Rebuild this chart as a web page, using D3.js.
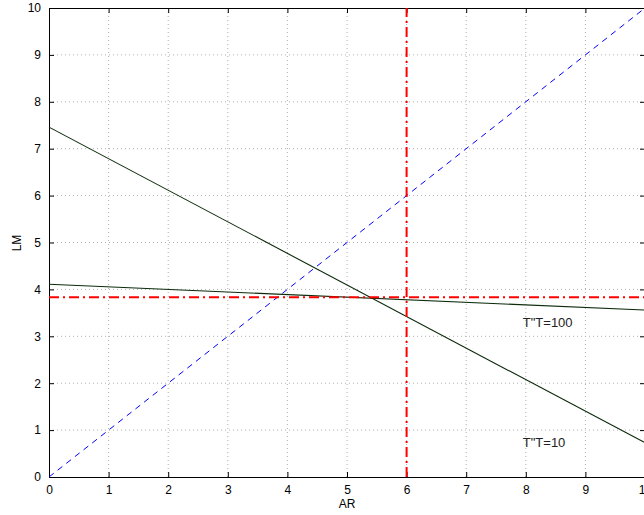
<!DOCTYPE html>
<html>
<head>
<meta charset="utf-8">
<script src="https://cdn.jsdelivr.net/npm/d3@7"></script>
<style>
  body { margin: 0; background: #fff; }
  text { font-family: "Liberation Sans", Arial, sans-serif; }
</style>
</head>
<body>
<svg id="chart"></svg>
<script>
// values
var xTicks = [0, 1, 2, 3, 4, 5, 6, 7, 8, 9, 10];
var yTicks = [0, 1, 2, 3, 4, 5, 6, 7, 8, 9, 10];
var diagLine = [[0, 0], [10, 10]];
var lineT10 = [[0, 7.46], [10, 0.73]];
var lineT100 = [[0, 4.11], [10, 3.56]];
var vLine = [[6, 0], [6, 10]];
var hLine = [[0, 3.83], [10, 3.83]];
var labels = [
  {text: 'T"T=100', x: 8, y: 3.2},
  {text: 'T"T=10', x: 8, y: 0.63}
];

var width = 644, height = 515;
// plot box edges (top is a reserved window name, so use prefixed names)
var pLeft = 49, pRight = 645, pTop = 8, pBottom = 477;

var svg = d3.select("#chart")
  .attr("width", width)
  .attr("height", height);

var x = d3.scaleLinear().domain([0, 10]).range([pLeft, pRight]);
var y = d3.scaleLinear().domain([0, 10]).range([pBottom, pTop]);

// grid
svg.append("g").selectAll("line")
  .data(xTicks.slice(1, -1))
  .enter().append("line")
  .attr("x1", function(d){ return x(d); })
  .attr("x2", function(d){ return x(d); })
  .attr("y1", pTop).attr("y2", pBottom)
  .attr("stroke", "#b0b0b0")
  .attr("stroke-dasharray", "1,3");

svg.append("g").selectAll("line")
  .data(yTicks.slice(1, -1))
  .enter().append("line")
  .attr("y1", function(d){ return y(d); })
  .attr("y2", function(d){ return y(d); })
  .attr("x1", pLeft).attr("x2", pRight)
  .attr("stroke", "#b0b0b0")
  .attr("stroke-dasharray", "1,3");

// axes, ticks pointing inward
var xAxis = d3.axisBottom(x).tickValues(xTicks).tickSize(-5).tickPadding(8);
var yAxis = d3.axisLeft(y).tickValues(yTicks).tickSize(-5).tickPadding(8);

svg.append("g").attr("transform", "translate(0," + pBottom + ")").call(xAxis);
svg.append("g").attr("transform", "translate(0," + pTop + ")")
  .call(d3.axisTop(x).tickValues(xTicks).tickSize(-5).tickFormat(""));
svg.append("g").attr("transform", "translate(" + pLeft + ",0)").call(yAxis);
svg.append("g").attr("transform", "translate(" + pRight + ",0)")
  .call(d3.axisRight(y).tickValues(yTicks).tickSize(-5).tickFormat(""));

svg.selectAll(".domain").attr("stroke", "#000").attr("stroke-width", 1);
svg.selectAll(".tick line").attr("stroke", "#000");
svg.selectAll(".tick text")
  .attr("font-size", 12)
  .attr("fill", "#000")
  .style("font-family", "Liberation Sans, Arial, sans-serif");

var line = d3.line()
  .x(function(d){ return x(d[0]); })
  .y(function(d){ return y(d[1]); });

svg.append("path").datum(diagLine)
  .attr("d", line).attr("fill", "none")
  .attr("stroke", "#0000ff").attr("stroke-width", 1)
  .attr("stroke-dasharray", "6,5");

svg.append("path").datum(lineT10)
  .attr("d", line).attr("fill", "none")
  .attr("stroke", "#0a2a0a").attr("stroke-width", 1.1);

svg.append("path").datum(lineT100)
  .attr("d", line).attr("fill", "none")
  .attr("stroke", "#0a2a0a").attr("stroke-width", 1.1);

svg.append("path").datum(vLine)
  .attr("d", line).attr("fill", "none")
  .attr("stroke", "#ff0000").attr("stroke-width", 2)
  .attr("stroke-dasharray", "10,4,2,4");

svg.append("path").datum(hLine)
  .attr("d", line).attr("fill", "none")
  .attr("stroke", "#ff0000").attr("stroke-width", 2)
  .attr("stroke-dasharray", "10,4,2,4");

svg.selectAll(".lbl")
  .data(labels)
  .enter().append("text")
  .attr("class", "lbl")
  .attr("x", function(d){ return x(d.x) - 3; })
  .attr("y", function(d){ return y(d.y); })
  .attr("font-size", 13)
  .attr("fill", "#222")
  .text(function(d){ return d.text; });

svg.append("text")
  .attr("x", (pLeft + pRight) / 2)
  .attr("y", 508)
  .attr("text-anchor", "middle")
  .attr("font-size", 12)
  .text("AR");

svg.append("text")
  .attr("transform", "translate(21,243) rotate(-90)")
  .attr("text-anchor", "middle")
  .attr("font-size", 12)
  .text("LM");
</script>
</body>
</html>
